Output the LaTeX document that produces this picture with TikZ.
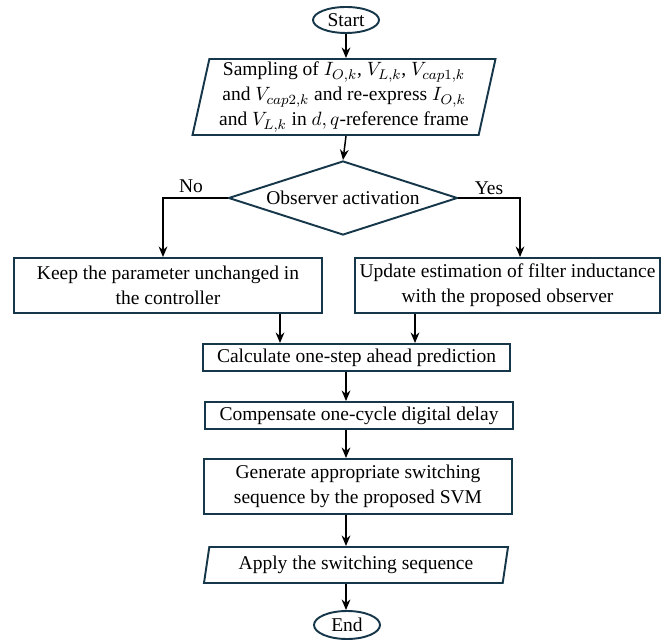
\documentclass[tikz,border=0pt]{standalone}
\usepackage{fontspec}
\setmainfont{Liberation Serif}
\usepackage{tikz}
\usetikzlibrary{shapes.geometric,arrows.meta,positioning,calc}
\definecolor{flownavy}{RGB}{22,54,74}
\tikzset{
  % Generic process box
  procbox/.style={rectangle, draw=flownavy, line width=1.1pt, align=center,
                  font=\fontsize{11.1}{14.2}\selectfont, inner sep=2pt},
  % Terminal (start / end)
  termbox/.style={ellipse, draw=flownavy, line width=1.1pt,
                  font=\fontsize{11.1}{14.2}\selectfont, inner sep=0pt,
                  minimum width=1.32cm, minimum height=0.52cm},
  % Input / output box
  iobox/.style={trapezium, trapezium left angle=#1, trapezium right angle=180-#1,
                trapezium stretches body, draw=flownavy, line width=1.1pt,
                align=center, font=\fontsize{11.1}{14.2}\selectfont, inner sep=1pt},
  iobox/.default=76,
  % Decision
  decbox/.style={diamond, draw=flownavy, line width=1.1pt, aspect=3.1,
                 font=\fontsize{11.1}{14.2}\selectfont, inner sep=0pt,
                 minimum width=4.58cm, minimum height=1.48cm},
  % Arrows
  arr/.style={-{Stealth[length=6pt,width=5pt]}, line width=0.85pt, draw=black},
  lbl/.style={font=\fontsize{11.1}{14.2}\selectfont},
}
\begin{document}
\begin{tikzpicture}[x=1cm,y=1cm]
  \useasboundingbox (0,0) rectangle (13.26,12.82);

  %% Terminals and input
  \node[termbox] (start) at (6.92,12.42) {Start};
  \node[iobox=77, minimum width=6.06cm, minimum height=1.52cm] (sample) at (6.88,10.88)
       {Sampling of $I_{O,k}$, $V_{L,k}$, $V_{cap1,k}$\\
        and $V_{cap2,k}$ and re-express $I_{O,k}$\\
        and $V_{L,k}$ in $d,q$-reference frame};

  %% Decision
  \node[decbox] (obs) at (6.86,8.86) {Observer activation};

  %% Branches
  \node[procbox, minimum width=6.16cm, minimum height=1.10cm] (keep) at (3.36,7.11)
       {Keep the parameter unchanged in\\the controller};
  \node[procbox, minimum width=6.10cm, minimum height=1.10cm] (update) at (10.15,7.11)
       {Update estimation of filter inductance\\with the proposed observer};

  %% Main chain
  \node[procbox, minimum width=6.14cm, minimum height=0.54cm] (calc) at (7.13,5.67)
       {Calculate one-step ahead prediction};
  \node[procbox, minimum width=6.16cm, minimum height=0.54cm] (comp) at (7.18,4.51)
       {Compensate one-cycle digital delay};
  \node[procbox, minimum width=6.16cm, minimum height=1.10cm] (svm) at (7.16,3.09)
       {Generate appropriate switching\\sequence by the proposed SVM};
  \node[iobox, minimum width=6.08cm, minimum height=0.72cm] (apply) at (7.12,1.52)
       {Apply the switching sequence};
  \node[termbox, minimum height=0.56cm] (end) at (6.94,0.32) {End};

  %% Labels
  \node[lbl] (no)  at (3.82,9.10) {No};
  \node[lbl] (yes) at (9.78,9.06) {Yes};

  %% Arrows
  \coordinate (kout) at ([xshift=2.24cm]keep.south);
  \coordinate (uout) at ([xshift=-1.85cm]update.south);
  \draw[arr] (start.south) -- (sample.north -| start.south);
  \draw[arr] (sample.south -| start.south) -- (obs.north);
  \draw[arr] (obs.west) -| ([xshift=-0.1cm]keep.north);
  \draw[arr] (obs.east) -| ([xshift=0.25cm]update.north);
  \draw[arr] (kout) -- (kout |- calc.north);
  \draw[arr] (uout) -- (uout |- calc.north);
  \draw[arr] (calc.south -| start.south) -- (comp.north -| start.south);
  \draw[arr] (comp.south -| start.south) -- (svm.north -| start.south);
  \draw[arr] (svm.south -| start.south) -- (apply.north -| start.south);
  \draw[arr] (apply.south -| start.south) -- (end.north -| start.south);

\end{tikzpicture}
\end{document}
